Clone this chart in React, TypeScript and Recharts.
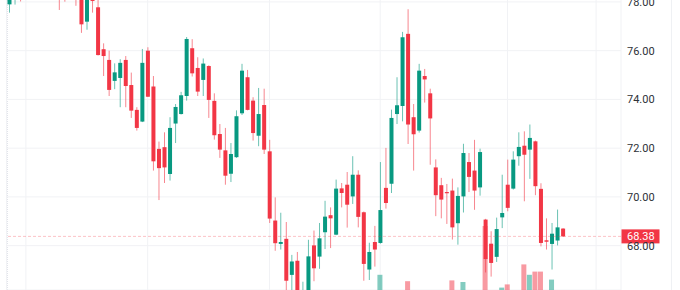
import React from 'react';
import { ComposedChart, Bar, XAxis, YAxis, CartesianGrid, ReferenceLine } from 'recharts';

const UP = '#089981';
const DOWN = '#f23645';

// daily candles, oldest first (the ones above 78 sit outside the visible window)
const opens = [
  77.9, 78.3, 78.7, 78.4, 78.9, 79.1, 78.8, 79.0, 78.7, 78.6,
  78.5, 78.25, 78.6, 78.4, 77.19, 78.4, 77.78, 76.06, 75.62, 74.76,
  74.88, 75.62, 74.59, 73.57, 73.09, 76.0, 74.53, 71.97, 72.04, 70.94,
  73.01, 73.4, 74.14, 76.1, 75.29, 74.8, 75.37, 73.94, 72.58, 71.91,
  70.95, 71.63, 73.43, 74.91, 73.95, 72.51, 73.77, 71.87, 69.03, 68.07,
  68.28, 66.8, 67.38, 65.5, 65.9, 68.01, 67.55, 68.55, 69.25, 68.45,
  70.35, 70.5, 70.02, 70.91, 69.37, 67.02, 68.15, 68.11, 70.37, 70.54,
  73.4, 73.73, 76.69, 73.27, 72.72, 74.96, 74.25, 71.21, 70.48, 70.2,
  70.26, 68.92, 70.02, 71.43, 71.08, 70.39, 69.07, 68.08, 67.54, 69.16,
  70.5, 70.34, 71.67, 72.1, 71.94, 72.28, 70.33, 68.22, 68.07, 68.21,
  68.7,
];
const highs = [
  78.5, 78.8, 79.0, 79.1, 79.3, 79.4, 79.2, 79.3, 79.1, 78.9,
  78.8, 78.9, 78.8, 78.6, 78.5, 78.6, 78.2, 76.3, 76.0, 75.48,
  75.65, 75.78, 75.1, 73.68, 76.07, 76.14, 74.96, 72.27, 72.65, 73.27,
  73.81, 74.31, 76.56, 76.47, 75.73, 75.68, 75.4, 74.25, 72.99, 72.83,
  72.21, 73.55, 75.46, 75.21, 74.09, 74.47, 74.44, 72.34, 69.98, 69.35,
  68.97, 67.62, 67.74, 66.52, 68.24, 68.62, 68.93, 69.84, 69.57, 70.71,
  70.57, 71.02, 71.67, 71.09, 69.4, 68.12, 68.81, 71.43, 72.01, 73.58,
  74.91, 76.77, 77.7, 73.81, 75.46, 75.25, 74.44, 71.54, 70.78, 70.53,
  70.75, 70.39, 72.18, 71.8, 72.34, 71.98, 69.1, 68.59, 69.15, 70.91,
  71.53, 71.87, 72.65, 72.69, 72.97, 72.31, 70.56, 69.12, 68.93, 69.48,
  68.72,
];
const lows = [
  77.56, 77.89, 78.02, 78.2, 78.5, 78.6, 78.4, 78.5, 78.3, 77.67,
  78.01, 78.15, 77.84, 76.73, 76.86, 77.56, 75.8, 74.96, 74.14, 74.42,
  73.68, 73.68, 73.24, 72.72, 73.07, 74.1, 71.08, 69.87, 70.57, 70.67,
  72.21, 73.38, 73.95, 74.94, 74.14, 74.14, 73.24, 72.35, 71.6, 70.5,
  70.61, 71.6, 73.36, 73.55, 72.31, 72.08, 71.76, 68.93, 67.79, 67.84,
  66.0, 66.1, 65.6, 65.3, 65.7, 66.54, 67.05, 67.86, 67.9, 68.43,
  69.57, 68.74, 69.71, 68.75, 66.56, 66.59, 67.14, 68.08, 69.52, 70.16,
  72.99, 73.1, 72.17, 71.08, 72.64, 73.87, 71.32, 69.21, 69.12, 68.89,
  68.25, 68.04, 69.36, 70.2, 69.47, 70.05, 66.9, 66.73, 67.33, 68.72,
  69.41, 70.3, 71.28, 69.82, 70.74, 70.07, 67.97, 67.84, 67.02, 68.01,
  68.36,
];
const closes = [
  78.3, 78.6, 78.3, 78.9, 79.1, 78.8, 79.0, 78.7, 78.6, 78.3,
  78.25, 78.6, 78.4, 77.08, 78.3, 78.04, 75.82, 75.78, 74.39, 75.11,
  75.5, 74.55, 73.54, 72.83, 75.5, 74.11, 71.46, 71.18, 71.21, 72.83,
  73.69, 74.17, 76.48, 75.07, 74.32, 75.47, 73.98, 72.53, 71.94, 70.87,
  71.76, 73.31, 75.18, 73.57, 72.62, 73.4, 71.94, 69.11, 68.1, 68.15,
  66.56, 67.35, 65.9, 66.0, 67.56, 67.07, 68.3, 69.19, 69.12, 70.34,
  70.16, 69.68, 70.91, 69.18, 67.25, 67.74, 67.84, 69.46, 69.75, 73.24,
  73.76, 76.55, 72.97, 72.57, 75.18, 74.82, 73.22, 70.07, 69.89, 70.15,
  68.75, 70.04, 71.8, 70.82, 70.26, 71.84, 67.45, 67.29, 68.68, 69.34,
  69.55, 71.53, 72.05, 71.73, 72.42, 70.44, 68.11, 68.16, 68.49, 68.75,
  68.38,
];
// only the tallest volume bars reach into view; the rest are unknown
const volumes: (number | null)[] = [
  ...Array(67).fill(null),
  219, null, null, null, null, 211, null, null, null, null,
  null, null, null, 212, null, 210, null, null, null, 280,
  null, null, 203, 207, null, null, 232, 219, 223, 223,
  null, 213, null, null,
];

const lastPrice = 68.38;
const priceTicks = [68, 70, 72, 74, 76, 78];
const monthStarts = [3, 25, 47, 67, 90, 106];
const emptySlots = 10; // right offset after the last candle

const data = [
  ...opens.map((o, i) => ({
    i,
    open: o,
    high: highs[i],
    low: lows[i],
    close: closes[i],
    range: [lows[i], highs[i]],
    volume: volumes[i],
  })),
  ...Array.from({ length: emptySlots }, (_, k) => ({ i: opens.length + k })),
];

const Candle = (props: any) => {
  const { x, y, width, height, payload } = props;
  if (!payload || payload.open == null || !height) return null;
  const { open, close, high, low } = payload;
  const color = close >= open ? UP : DOWN;
  const perUnit = height / (high - low);
  const cx = x + width / 2;
  const bodyTop = y + (high - Math.max(open, close)) * perUnit;
  const bodyH = Math.max(Math.abs(open - close) * perUnit, 1);
  return (
    <g>
      <line x1={cx} x2={cx} y1={y} y2={y + height} stroke={color} strokeOpacity={0.6} />
      <rect x={x} y={bodyTop} width={width} height={bodyH} fill={color} />
    </g>
  );
};

const VolumeBar = (props: any) => {
  const { x, y, width, height, payload } = props;
  if (!payload || payload.volume == null || !(height > 0)) return null;
  const color = payload.close >= payload.open ? UP : DOWN;
  return <rect x={x} y={y} width={width} height={height} fill={color} fillOpacity={0.5} />;
};

const PriceTag = (props: any) => {
  const vb = props.viewBox;
  if (!vb) return null;
  const left = vb.x + vb.width;
  return (
    <g>
      <rect x={left + 0.5} y={vb.y - 7} width={38} height={14} fill={DOWN} />
      <text x={left + 6} y={vb.y} dy="0.36em" fill="#fff" fontSize={11} fontFamily="Roboto, sans-serif">
        {lastPrice.toFixed(2)}
      </text>
    </g>
  );
};

export default function App() {
  return (
    <div
      style={{
        position: 'absolute',
        left: 0,
        top: 0,
        width: 680,
        height: 290,
        overflow: 'hidden',
        background: '#fff',
      }}
    >
      <div
        style={{
          position: 'absolute',
          left: 7,
          top: 0,
          height: 290,
          borderLeft: '1px dotted #e2e4ea',
        }}
      />
      <div
        style={{
          position: 'absolute',
          left: 671,
          top: 0,
          height: 290,
          borderLeft: '1px solid #eff1f4',
        }}
      />
      <ComposedChart
        width={680}
        height={320}
        data={data}
        margin={{ top: 0, right: 0, bottom: 0, left: 6.5 }}
        style={{ position: 'absolute', left: 0, top: -30 }}
      >
        <CartesianGrid xAxisId="main" yAxisId="price" stroke="#f1f2f5" />
        <XAxis xAxisId="main" dataKey="i" type="category" ticks={monthStarts} hide />
        <XAxis xAxisId="vol" dataKey="i" type="category" hide />
        <YAxis
          yAxisId="price"
          orientation="right"
          width={59}
          domain={[66.18, 79.31]}
          allowDataOverflow
          ticks={priceTicks}
          tickFormatter={(v: number) => v.toFixed(2)}
          axisLine={false}
          tickLine={false}
          tickSize={6}
          tickMargin={0}
          tick={{ fill: '#2e3238', fontSize: 11, fontFamily: 'Roboto, sans-serif' }}
        />
        <YAxis yAxisId="vol" domain={[200, 600]} allowDataOverflow hide />
        <Bar
          xAxisId="vol"
          yAxisId="vol"
          dataKey="volume"
          barSize={5}
          shape={VolumeBar}
          isAnimationActive={false}
        />
        <ReferenceLine
          xAxisId="main"
          yAxisId="price"
          y={lastPrice}
          stroke={DOWN}
          strokeOpacity={0.3}
          strokeDasharray="3 2"
          label={PriceTag}
        />
        <Bar
          xAxisId="main"
          yAxisId="price"
          dataKey="range"
          barSize={4}
          shape={Candle}
          isAnimationActive={false}
        />
      </ComposedChart>
    </div>
  );
}
